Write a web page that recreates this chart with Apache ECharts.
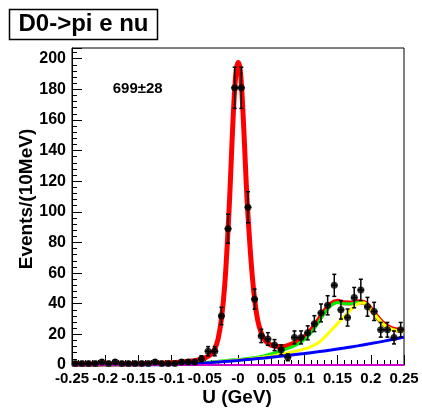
<!DOCTYPE html>
<html>
<head>
<meta charset="utf-8">
<script src="https://cdn.jsdelivr.net/npm/echarts@6/dist/echarts.min.js"></script>
<style>
  html, body { margin: 0; padding: 0; background: #fff; }
  #chart { width: 422px; height: 413px; }
</style>
</head>
<body>
<div id="chart"></div>
<script>
// Bin centres (10 MeV bins) and event counts per bin
const binCenters = [
  -0.245, -0.235, -0.225, -0.215, -0.205, -0.195, -0.185, -0.175, -0.165, -0.155,
  -0.145, -0.135, -0.125, -0.115, -0.105, -0.095, -0.085, -0.075, -0.065, -0.055,
  -0.045, -0.035, -0.025, -0.015, -0.005, 0.005, 0.015, 0.025, 0.035, 0.045,
  0.055, 0.065, 0.075, 0.085, 0.095, 0.105, 0.115, 0.125, 0.135, 0.145,
  0.155, 0.165, 0.175, 0.185, 0.195, 0.205, 0.215, 0.225, 0.235, 0.245
];
const counts = [
  1, 1, 1, 1, 2, 1, 2, 1, 1, 1,
  1, 1, 2, 1, 1, 1, 2, 2, 2, 4,
  9, 9, 32, 89, 181, 181, 103, 43, 19, 17,
  13, 10, 5, 18, 18, 21, 27, 34, 39, 52,
  36, 31, 44, 49, 38, 35, 23, 23, 18, 23
];

// Axis tick labels
const xTickLabels = ['-0.25', '-0.2', '-0.15', '-0.1', '-0.05', '-0', '0.05', '0.1', '0.15', '0.2', '0.25'];
const yTickLabels = ['0', '20', '40', '60', '80', '100', '120', '140', '160', '180', '200'];

// Fit curves: total (red), D->rho/K/background stack (green, yellow), combinatorial background (blue)
const totalFit = [
  [-0.25, 0.5], [-0.2, 0.6], [-0.15, 0.8], [-0.12, 1.1], [-0.1, 1.4], [-0.08, 2.1], [-0.06, 3.3],
  [-0.05, 4.6], [-0.04, 7.3], [-0.035, 10.5], [-0.03, 17], [-0.025, 30], [-0.02, 52], [-0.015, 88],
  [-0.0125, 110], [-0.01, 135], [-0.0075, 160], [-0.005, 180], [-0.0025, 193], [0, 197.5],
  [0.0025, 195], [0.005, 184], [0.0075, 165], [0.01, 142], [0.0125, 118], [0.015, 98], [0.02, 66],
  [0.025, 43], [0.03, 28.5], [0.035, 21], [0.04, 16.5], [0.045, 14.2], [0.05, 13], [0.06, 12],
  [0.07, 12.1], [0.08, 13.5], [0.09, 15.6], [0.1, 18.3], [0.11, 22.8], [0.12, 28.6], [0.13, 35],
  [0.14, 39.8], [0.15, 41.6], [0.16, 40.6], [0.17, 40.5], [0.18, 41.3], [0.19, 40.8], [0.2, 36.6],
  [0.21, 31.1], [0.22, 26.6], [0.23, 24], [0.24, 22.9], [0.25, 22.6]
];
const greenCurve = [
  [-0.25, 0.1], [-0.15, 0.2], [-0.1, 0.4], [-0.08, 0.7], [-0.06, 1.2], [-0.04, 1.9], [-0.02, 2.8],
  [0, 3.6], [0.02, 4.5], [0.04, 6], [0.06, 8.5], [0.07, 10], [0.08, 11.6], [0.09, 13.6], [0.1, 16.5],
  [0.11, 21], [0.12, 27], [0.13, 33.8], [0.14, 38.8], [0.15, 40.8], [0.16, 40], [0.17, 40],
  [0.18, 40.8], [0.19, 40.4], [0.2, 36.2], [0.21, 30.7], [0.22, 26.1], [0.23, 23.6], [0.24, 22.4],
  [0.25, 22.1]
];
const yellowCurve = [
  [-0.25, 0], [-0.15, 0.1], [-0.1, 0.3], [-0.08, 0.6], [-0.06, 1.1], [-0.04, 1.7], [-0.02, 2.5],
  [0, 3.2], [0.02, 4.1], [0.04, 5.2], [0.06, 6.6], [0.08, 8.3], [0.1, 10.5], [0.11, 12], [0.12, 14.2],
  [0.13, 18], [0.14, 22.5], [0.15, 27], [0.16, 31.5], [0.17, 36.3], [0.18, 39.8], [0.185, 40.7],
  [0.19, 40.5], [0.2, 36.3], [0.21, 30.8], [0.22, 26.2], [0.23, 23.6], [0.24, 22.4], [0.25, 22.1]
];
const blueCurve = [
  [-0.25, 0], [-0.15, 0], [-0.1, 0.2], [-0.08, 0.5], [-0.06, 1], [-0.04, 1.6], [-0.02, 2.3], [0, 3],
  [0.02, 3.8], [0.04, 4.6], [0.06, 5.5], [0.08, 6.5], [0.1, 7.5], [0.12, 8.6], [0.14, 9.8],
  [0.16, 11.1], [0.18, 12.5], [0.2, 14], [0.22, 15.6], [0.24, 17.3], [0.25, 18.2]
];
const zeroLine = [[-0.25, 0], [0.25, 0]];

const titleText = 'D0->pi e nu';
const yieldText = '699\u00b128';
const xTitle = 'U (GeV)';
const yTitle = 'Events/(10MeV)';
const halfBin = 0.005;

const FONT = '"Liberation Sans", Arial, Helvetica, sans-serif';

const chart = echarts.init(document.getElementById('chart'), null, { renderer: 'canvas' });

const points = binCenters.map((c, i) => [c, counts[i]]);

function lineSeries(data, color, width, z) {
  return {
    type: 'line', data: data, showSymbol: false, symbol: 'none', smooth: 0.35,
    lineStyle: { color: color, width: width }, z: z, silent: true, animation: false
  };
}

chart.setOption({
  animation: false,
  grid: { left: 72, right: 18, top: 48, bottom: 48, show: true, borderColor: '#000', borderWidth: 1, backgroundColor: 'transparent' },
  xAxis: {
    type: 'value', min: -0.25, max: 0.25, interval: 0.05,
    axisLine: { show: true, onZero: false, lineStyle: { color: '#000', width: 1 } },
    axisTick: { show: true, inside: true, length: 10, lineStyle: { color: '#000', width: 1 } },
    minorTick: { show: true, splitNumber: 5, length: 5, lineStyle: { color: '#000', width: 1 } },
    splitLine: { show: false },
    axisLabel: {
      margin: 6, color: '#000', fontFamily: FONT, fontWeight: 'bold', fontSize: 15,
      showMinLabel: true, showMaxLabel: true,
      formatter: function (v) { return xTickLabels[Math.round((v + 0.25) / 0.05)] || ''; }
    }
  },
  yAxis: {
    type: 'value', min: 0, max: 207, interval: 20,
    axisLine: { show: true, onZero: false, lineStyle: { color: '#000', width: 1 } },
    axisTick: { show: true, inside: true, length: 10, lineStyle: { color: '#000', width: 1 } },
    minorTick: { show: true, splitNumber: 5, length: 5, lineStyle: { color: '#000', width: 1 } },
    splitLine: { show: false },
    axisLabel: {
      margin: 6, color: '#000', fontFamily: FONT, fontWeight: 'bold', fontSize: 16,
      showMaxLabel: false,
      formatter: function (v) { const i = Math.round(v / 20); return Math.abs(v - i * 20) < 1e-6 ? (yTickLabels[i] || '') : ''; }
    }
  },
  series: [
    lineSeries(totalFit, '#ff0000', 5, 2),
    lineSeries(greenCurve, '#00ee00', 3, 3),
    lineSeries(yellowCurve, '#ffff00', 3, 4),
    lineSeries(blueCurve, '#0000ff', 3, 5),
    Object.assign(lineSeries(zeroLine, '#cc00cc', 2, 6), { smooth: false, clip: false }),
    {
      type: 'custom', data: points, z: 7, silent: true, clip: false,
      encode: { x: 0, y: 1 },
      renderItem: function (params, api) {
        const x = api.value(0), y = api.value(1), e = Math.sqrt(y);
        const p = api.coord([x, y]);
        const top = api.coord([x, y + e]);
        const bot = api.coord([x, Math.max(y - e, 0)]);
        const l = api.coord([x - halfBin, y]);
        const r = api.coord([x + halfBin, y]);
        const cap = 2;
        const style = { stroke: '#000', lineWidth: 1.5 };
        return {
          type: 'group', children: [
            { type: 'line', shape: { x1: p[0], y1: top[1], x2: p[0], y2: bot[1] }, style: style },
            { type: 'line', shape: { x1: p[0] - cap, y1: top[1], x2: p[0] + cap, y2: top[1] }, style: style },
            { type: 'line', shape: { x1: p[0] - cap, y1: bot[1], x2: p[0] + cap, y2: bot[1] }, style: style },
            { type: 'line', shape: { x1: l[0], y1: p[1], x2: r[0], y2: p[1] }, style: style }
          ]
        };
      }
    },
    {
      type: 'scatter', data: points, symbol: 'circle', symbolSize: 7, z: 8, silent: true,
      itemStyle: { color: '#000' }
    }
  ],
  graphic: [
    { type: 'rect', shape: { x: 9.5, y: 9.5, width: 148, height: 30 }, style: { fill: '#fff', stroke: '#000', lineWidth: 1.5 }, z: 10 },
    { type: 'text', z: 11, style: { x: 83.5, y: 24.5, text: titleText, fill: '#000', font: 'bold 24px ' + FONT, textAlign: 'center', textVerticalAlign: 'middle' } },
    { type: 'text', z: 11, style: { x: 112.7, y: 88.5, text: yieldText, fill: '#000', font: 'bold 15px ' + FONT, textAlign: 'left', textVerticalAlign: 'middle' } },
    { type: 'text', z: 11, x: 27, y: 199, rotation: Math.PI / 2, style: { x: 0, y: 0, text: yTitle, fill: '#000', font: 'bold 19px ' + FONT, textAlign: 'center', textVerticalAlign: 'middle' } },
    { type: 'text', z: 11, style: { x: 237, y: 397.5, text: xTitle, fill: '#000', font: 'bold 19px ' + FONT, textAlign: 'center', textVerticalAlign: 'middle' } }
  ]
});
</script>
</body>
</html>
